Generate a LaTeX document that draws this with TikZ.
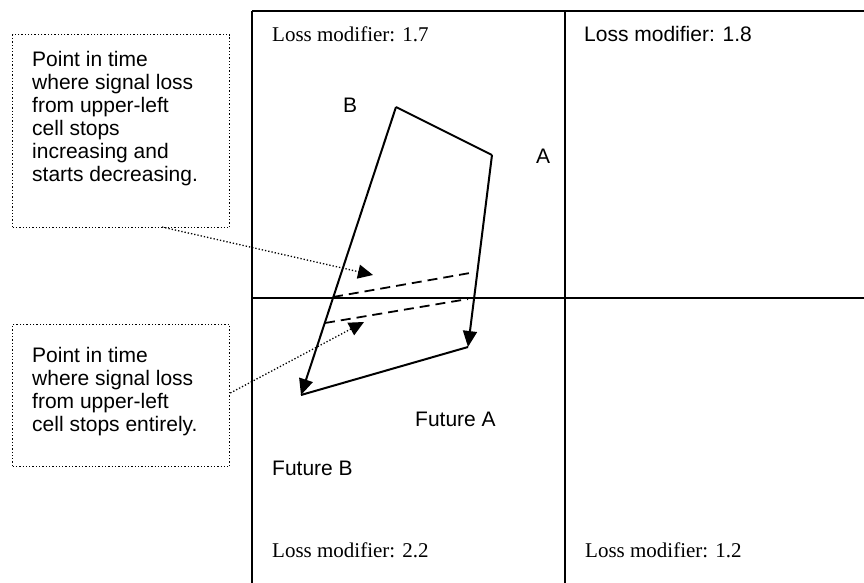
\documentclass[tikz,border=0pt]{standalone}
\usepackage{fontspec}
\setmainfont{Liberation Serif}
\newfontfamily\arialfont{Liberation Sans}
\usetikzlibrary{arrows.meta}

\tikzset{
  gridline/.style={line width=2.2pt},
  pathline/.style={line width=2pt},
  trackline/.style={line width=1.8pt, dash pattern=on 10pt off 6pt},
  callout/.style={draw, dotted, line width=1.3pt},
  pointer/.style={dotted, line width=1.3pt, -{Triangle[length=15pt,width=14pt]}},
  sanslabel/.style={font=\arialfont\fontsize{21}{23}\selectfont, inner sep=0pt},
  seriflabel/.style={font=\fontsize{21}{23}\selectfont, inner sep=0pt}
}

\begin{document}
\begin{tikzpicture}[x=1pt, y=-1pt]
                \useasboundingbox (0,0) rectangle (864,583);
                % the four cells
                \draw[gridline] (252,11) -- (864,11);
                \draw[gridline] (252,11) -- (252,583);
                \draw[gridline] (565,11) -- (565,583);
                \draw[gridline] (252,298) -- (864,298);
                \node[seriflabel, anchor=base west] (lossul) at (272,42) {Loss modifier: 1.7};
                \node[sanslabel, anchor=base west] (lossur) at (584,42) {Loss modifier: 1.8};
                \node[seriflabel, anchor=base west] (lossll) at (272,557) {Loss modifier: 2.2};
                \node[seriflabel, anchor=base west] (losslr) at (585,557) {Loss modifier: 1.2};
                % current and future positions
                \coordinate (posB) at (396,107);
                \coordinate (posA) at (492,155);
                \coordinate (futA) at (468,347);
                \coordinate (futB) at (301,395);
                \draw[pathline] (posB) -- (posA);
                \draw[pathline, -{Triangle[length=16pt,width=14pt]}] (posA) -- (futA);
                \draw[pathline] (futA) -- (futB);
                \draw[pathline, -{Triangle[length=16pt,width=14pt]}] (posB) -- (futB);
                \node[sanslabel, anchor=base] (labB) at (350,113) {B};
                \node[sanslabel, anchor=base] (labA) at (543,163) {A};
                \node[sanslabel, anchor=base west] (labfutA) at (415,426) {Future A};
                \node[sanslabel, anchor=base west] (labfutB) at (272,475) {Future B};
                % crossing instants
                \coordinate (upL) at (333,297);
                \coordinate (upR) at (470,273);
                \coordinate (loL) at (325,323);
                \coordinate (loR) at (468,299);
                \draw[trackline] (upL) -- (upR);
                \draw[trackline] (loL) -- (loR);
                % callouts
                \node[callout, minimum width=217pt, minimum height=193pt, anchor=north west] (upbox) at (12,34) {};
                \node[callout, minimum width=217pt, minimum height=142pt, anchor=north west] (lobox) at (12,324) {};
                \node[sanslabel, align=left, anchor=north west] (uptext) at (32,51)
                  {Point in time\\where signal loss\\from upper-left\\cell stops\\increasing and\\starts decreasing.};
                \node[sanslabel, align=left, anchor=north west] (lotext) at (32,347)
                  {Point in time\\where signal loss\\from upper-left\\cell stops entirely.};
                \coordinate (uptip) at (373,275);
                \coordinate (lotip) at (364,322);
                \draw[pointer] (162,227) -- (uptip);
                \draw[pointer] (lobox.east |- 0,393) -- (lotip);
            \end{tikzpicture}
\end{document}
